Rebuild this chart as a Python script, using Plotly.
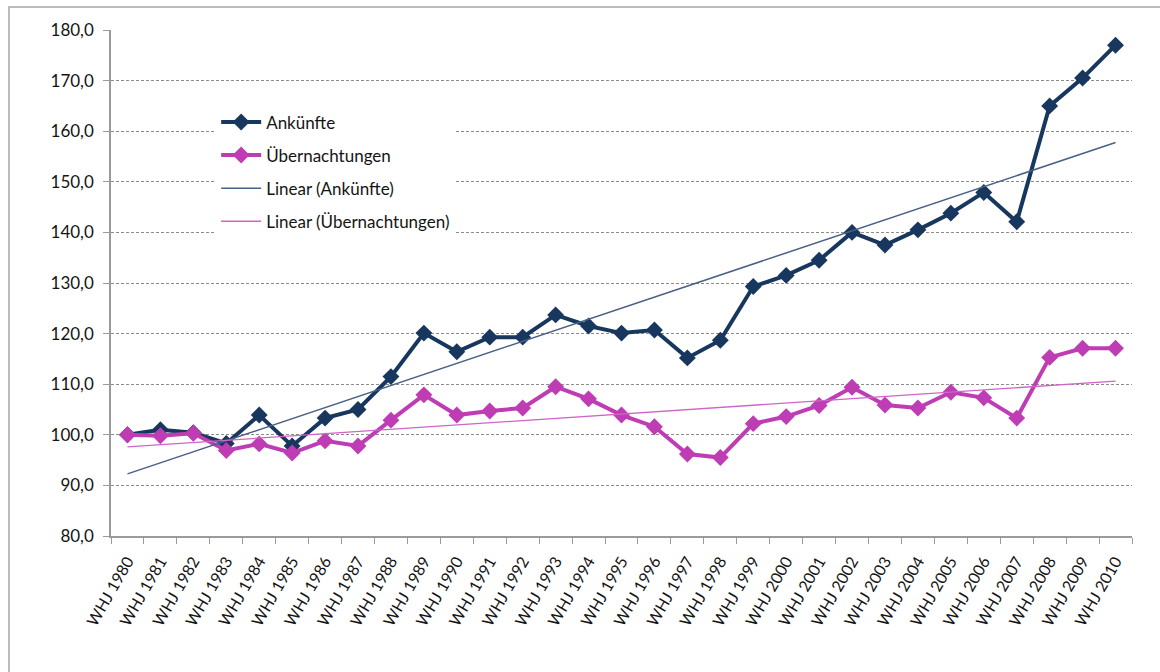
import numpy as np
import plotly.graph_objects as go

# Index values (1980 = 100) per tourism year
years = [f"WHJ {y}" for y in range(1980, 2011)]
ankuenfte = [100.0, 101.0, 100.4, 98.3, 103.9, 97.8, 103.3, 105.0, 111.5, 120.1,
             116.4, 119.3, 119.3, 123.7, 121.5, 120.1, 120.7, 115.2, 118.7, 129.3,
             131.5, 134.5, 140.0, 137.5, 140.5, 143.8, 147.9, 142.1, 165.0, 170.5, 177.0]
uebernachtungen = [100.0, 99.8, 100.3, 96.9, 98.2, 96.4, 98.8, 97.8, 102.9, 107.9,
                   103.9, 104.7, 105.3, 109.5, 107.1, 103.9, 101.6, 96.2, 95.5, 102.2,
                   103.6, 105.8, 109.4, 105.9, 105.3, 108.4, 107.3, 103.3, 115.3, 117.1, 117.1]
y_ticks = list(range(80, 181, 10))

NAVY = "#17375E"
MAGENTA = "#BE3CB4"
FONT = "Lato"
TEXT = "#141414"

# Least-squares linear trend over the year index
idx = np.arange(len(years))
trend_ank = np.polyval(np.polyfit(idx, ankuenfte, 1), idx)
trend_ueb = np.polyval(np.polyfit(idx, uebernachtungen, 1), idx)

fig = go.Figure()
fig.add_trace(go.Scatter(
    x=years, y=ankuenfte, name="Ankünfte", mode="lines+markers",
    line=dict(color=NAVY, width=4),
    marker=dict(symbol="diamond", size=13, color=NAVY),
    legendgroup="a", legendrank=1))
fig.add_trace(go.Scatter(
    x=years, y=uebernachtungen, name="Übernachtungen", mode="lines+markers",
    line=dict(color=MAGENTA, width=4),
    marker=dict(symbol="diamond", size=13, color=MAGENTA),
    legendgroup="b", legendrank=2))
fig.add_trace(go.Scatter(
    x=years, y=trend_ank, name="Linear (Ankünfte)", mode="lines",
    line=dict(color="#4A6186", width=1.5),
    legendgroup="c", legendrank=3))
fig.add_trace(go.Scatter(
    x=years, y=trend_ueb, name="Linear (Übernachtungen)", mode="lines",
    line=dict(color="#D064C8", width=1.3),
    legendgroup="d", legendrank=4))

fig.update_layout(
    width=1160, height=672,
    margin=dict(l=111, r=28, t=30, b=136),
    paper_bgcolor="white", plot_bgcolor="white",
    separators=",.",
    font=dict(family=FONT, size=17, color=TEXT),
    showlegend=True,
    legend=dict(
        x=0.103, y=0.853, xanchor="left", yanchor="top",
        bgcolor="white", borderwidth=0,
        font=dict(family=FONT, size=17, color=TEXT),
        itemwidth=40, tracegroupgap=8, traceorder="grouped",
    ),
    shapes=[dict(
        type="rect", xref="paper", yref="paper",
        x0=-0.0999, x1=1.04, y0=-0.3, y1=1.0455,
        line=dict(color="#a6a6a6", width=1.5), fillcolor="rgba(0,0,0,0)",
        layer="below")],
)

fig.update_xaxes(
    type="category", range=[-0.5, len(years) - 0.5],
    showline=True, linecolor="#9a9a9a", linewidth=1.5,
    ticks="outside", tickson="boundaries", ticklen=6, tickcolor="#9a9a9a",
    tickangle=-60, showgrid=False, ticklabelstandoff=8,
    tickfont=dict(family=FONT, size=16, color=TEXT),
)
fig.update_yaxes(
    range=[80, 180], tickvals=y_ticks, tickformat=".1f",
    showline=True, linecolor="#9a9a9a", linewidth=1.5,
    ticks="outside", ticklen=6, tickcolor="#9a9a9a", ticklabelstandoff=6,
    showgrid=True, gridcolor="#8c8c8c", gridwidth=1, griddash="3px,2px",
    zeroline=False,
    tickfont=dict(family=FONT, size=17, color=TEXT),
)

fig.write_html("out.html")
